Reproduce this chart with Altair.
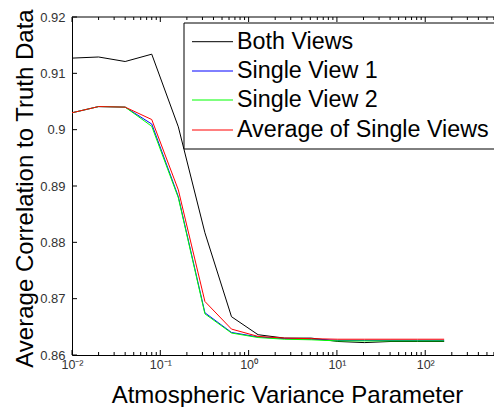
import altair as alt
import pandas as pd

# ---- data ----
x_vals = [0.01, 0.02, 0.04, 0.08, 0.16, 0.32, 0.64, 1.28, 2.56, 5.12, 10.24, 20.48, 40.96, 81.92, 163.84]
both_views = [0.9127, 0.9129, 0.9121, 0.9134, 0.9005, 0.8817, 0.8668, 0.8636, 0.8630, 0.8630, 0.8624, 0.8622, 0.8624, 0.8624, 0.8624]
single_view_1 = [0.9030, 0.9041, 0.9040, 0.9010, 0.8881, 0.8675, 0.8640, 0.8632, 0.8629, 0.8628, 0.8626, 0.8626, 0.8626, 0.8626, 0.8626]
single_view_2 = [0.9030, 0.9041, 0.9040, 0.9006, 0.8879, 0.8673, 0.8639, 0.8631, 0.8628, 0.8627, 0.8625, 0.8625, 0.8625, 0.8625, 0.8625]
average_single = [0.9030, 0.9041, 0.9040, 0.9018, 0.8893, 0.8695, 0.8646, 0.8633, 0.8630, 0.8629, 0.8628, 0.8628, 0.8628, 0.8628, 0.8628]

series_names = ["Both Views", "Single View 1", "Single View 2", "Average of Single Views"]
series_values = [both_views, single_view_1, single_view_2, average_single]
series_colors = ["#000000", "#0000ff", "#00ff00", "#ff0000"]

x_major_ticks = [0.01, 0.1, 1, 10, 100]
x_tick_labels = ["10\u207b\u00b2", "10\u207b\u00b9", "10\u2070", "10\u00b9", "10\u00b2"]
x_minor_ticks = [0.02, 0.03, 0.04, 0.05, 0.06, 0.07, 0.08, 0.09,
                 0.2, 0.3, 0.4, 0.5, 0.6, 0.7, 0.8, 0.9,
                 2, 3, 4, 5, 6, 7, 8, 9,
                 20, 30, 40, 50, 60, 70, 80, 90,
                 200, 300, 400, 500, 600]
y_ticks = [0.86, 0.87, 0.88, 0.89, 0.90, 0.91, 0.92]

FONT = "Liberation Sans"
W, H = 422, 338

xs = alt.Scale(type="log", domain=[0.01, 601], nice=False)
ys = alt.Scale(domain=[0.86, 0.92], nice=False, zero=False)

# label expression for superscript tick labels
expr = "''"
for v, lab in reversed(list(zip(x_major_ticks, x_tick_labels))):
    expr = f"(abs(datum.value - {v}) < {v} * 0.01 ? '{lab}' : {expr})"

x_axis = alt.Axis(values=x_major_ticks, labelExpr=expr, ticks=False, tickSize=0, grid=False,
                  domain=True, domainColor="black", domainWidth=1, labelFontSize=12.5, labelFont=FONT,
                  labelColor="#333333", labelPadding=3, labelFlush=False, labelOverlap=False,
                  title="Atmospheric Variance Parameter", titleFont=FONT, titleFontSize=24,
                  titleFontWeight="normal", titleColor="black", titleX=215, titleY=47,
                  titleBaseline="alphabetic", titleAlign="center")
y_axis = alt.Axis(values=y_ticks, format=".2~f", ticks=False, tickSize=0, grid=False,
                  domain=True, domainColor="black", domainWidth=1, labelFontSize=13, labelFont=FONT,
                  labelColor="#333333", labelPadding=7, labelFlush=False, labelOverlap=False,
                  title="Average Correlation to Truth Data", titleFont=FONT, titleFontSize=24,
                  titleFontWeight="normal", titleColor="black", titleX=-40, titleY=171,
                  titleBaseline="alphabetic", titleAlign="center", titleAngle=270)

layers = []
for name, vals, col in zip(series_names, series_values, series_colors):
    d = pd.DataFrame({"x": x_vals, "y": vals, "series": name})
    layers.append(alt.Chart(d).mark_line(color=col, strokeWidth=1).encode(
        x=alt.X("x:Q", scale=xs, axis=x_axis),
        y=alt.Y("y:Q", scale=ys, axis=y_axis),
    ))

one = pd.DataFrame({"a": [0]})

# top border
layers.append(alt.Chart(one).mark_rule(color="black", strokeWidth=1).encode(
    x=alt.value(0), x2=alt.value(W + 20), y=alt.value(0)))

# inward ticks (bottom and top)
maj = pd.DataFrame({"v": x_major_ticks})
mnr = pd.DataFrame({"v": x_minor_ticks})
for df_t, ln in [(maj, 5), (mnr, 3)]:
    layers.append(alt.Chart(df_t).mark_rule(color="black", strokeWidth=1).encode(
        x=alt.X("v:Q", scale=xs, axis=x_axis), y=alt.value(H), y2=alt.value(H - ln)))
    layers.append(alt.Chart(df_t).mark_rule(color="black", strokeWidth=1).encode(
        x=alt.X("v:Q", scale=xs, axis=x_axis), y=alt.value(0), y2=alt.value(ln)))
yt = pd.DataFrame({"v": y_ticks})
layers.append(alt.Chart(yt).mark_rule(color="black", strokeWidth=1).encode(
    y=alt.Y("v:Q", scale=ys, axis=y_axis), x=alt.value(0), x2=alt.value(5)))

# legend box (extends past the right edge like the reference)
layers.append(alt.Chart(one).mark_rect(fill="white", stroke="black", strokeWidth=1).encode(
    x=alt.value(112), x2=alt.value(470), y=alt.value(6), y2=alt.value(132)))
row_y = [24.7, 54, 83, 113]
for name, col, ry in zip(series_names, series_colors, row_y):
    layers.append(alt.Chart(one).mark_rule(color=col, strokeWidth=1).encode(
        x=alt.value(120), x2=alt.value(161), y=alt.value(ry)))
    layers.append(alt.Chart(one).mark_text(align="left", baseline="alphabetic", font=FONT,
                                          fontSize=23.3, color="black").encode(
        x=alt.value(165), y=alt.value(ry + 7), text=alt.value(name)))

chart = alt.layer(*layers).properties(
    width=W, height=H,
    padding={"left": 64, "top": 9, "right": 0, "bottom": 52},
    autosize="none",
    background="white",
).configure_view(stroke=None)

chart.save("out.html", embed_options={"renderer": "svg", "actions": False})
